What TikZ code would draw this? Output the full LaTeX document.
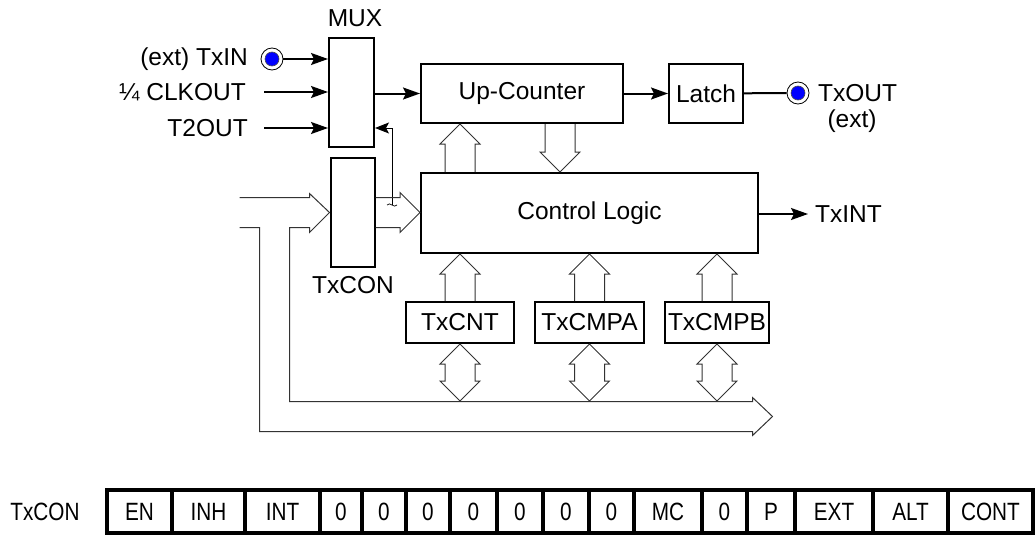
\documentclass[tikz,border=0pt]{standalone}
\usepackage{fontspec}
\setmainfont{Liberation Sans}
\newfontfamily\regfont[FakeStretch=0.83]{Liberation Sans}
\usetikzlibrary{arrows.meta,calc}

\tikzset{
  blk/.style={draw=black, line width=2pt, inner sep=0pt},
  txt/.style={inner sep=0pt},
  sig/.style={line width=2pt, -{Stealth[length=17pt,width=12pt,inset=3pt]}},
  sel/.style={line width=1pt, -{Stealth[length=14pt,width=11pt,inset=3pt]}},
  bus/.style={draw=black!80, line width=1pt, line join=miter},
  pad/.style={circle, draw=black, line width=0.8pt, fill=white, minimum size=22pt, inner sep=0pt,
    path picture={\fill[blue, draw=black!70, line width=0.6pt] (path picture bounding box.center) circle (7pt);}},
  bitcell/.style={draw=black, line width=3.5pt, minimum height=43pt, inner sep=0pt,
    font=\regfont\fontsize{25}{30}\selectfont},
}

% hollow bus arrow, tip at #2
\newcommand{\fatarrow}[2]{%
  \path[bus] let \p1=(#1), \p2=(#2),
    \n1={atan2(\y2-\y1,\x2-\x1)}, \n2={veclen(\x2-\x1,\y2-\y1)} in
    [shift={(\p1)}, rotate=\n1]
    (0pt,15pt) -- (\n2-20pt,15pt) -- (\n2-20pt,20pt) -- (\n2+0pt,0pt)
    -- (\n2-20pt,-20pt) -- (\n2-20pt,-15pt) -- (0pt,-15pt);}
% hollow bus arrow, both ends
\newcommand{\fatboth}[2]{%
  \path[bus] let \p1=(#1), \p2=(#2),
    \n1={atan2(\y2-\y1,\x2-\x1)}, \n2={veclen(\x2-\x1,\y2-\y1)} in
    [shift={(\p1)}, rotate=\n1]
    (0pt,0pt) -- (20pt,20pt) -- (20pt,15pt) -- (\n2-20pt,15pt) -- (\n2-20pt,20pt)
    -- (\n2+0pt,0pt) -- (\n2-20pt,-20pt) -- (\n2-20pt,-15pt) -- (20pt,-15pt)
    -- (20pt,-20pt) -- cycle;}

\begin{document}
\begin{tikzpicture}[x=1pt,y=-1pt,font=\fontsize{24.5}{29}\selectfont]
\useasboundingbox (0,0) rectangle (1036,535);
% blocks:
\node[blk, minimum width=45pt, minimum height=109pt] (mux) at (351.5,92.5) {};
\node[txt] (muxlbl) at (355,18) {MUX};
\node[blk, minimum width=44pt, minimum height=109pt] (txcon) at (352.5,212.5) {};
\node[txt] (txconlbl) at (353,285) {TxCON};
\node[blk, minimum width=202pt, minimum height=59pt] (upc) at (522,93.5) {Up-Counter};
\node[blk, minimum width=74pt, minimum height=59pt] (latch) at (706,93.5) {Latch};
\node[blk, minimum width=337pt, minimum height=80pt] (ctrl) at (589.5,213) {Control Logic};
\node[blk, minimum width=108pt, minimum height=41pt] (cnt) at (460,322.5) {TxCNT};
\node[blk, minimum width=109pt, minimum height=41pt] (cmpa) at (589.5,322.5) {TxCMPA};
\node[blk, minimum width=104pt, minimum height=41pt] (cmpb) at (717,322.5) {TxCMPB};

% mux inputs:
\node[pad] (txin) at (272,59) {};
\node[txt, anchor=east] (txinlbl) at (248,59) {(ext) TxIN};
\node[txt, anchor=east] (clklbl) at (246,92) {¼ CLKOUT};
\node[txt, anchor=east] (t2lbl) at (248,128) {T2OUT};
\draw[sig] (txin) -- (txin -| mux.west);
\draw[sig] ([xshift=18pt]clklbl.east) -- (clklbl -| mux.west);
\draw[sig] ([xshift=16pt]t2lbl.east) -- (t2lbl -| mux.west);

% outputs:
\draw[sig] (mux.east |- upc.west) -- (upc.west);
\draw[sig] (upc) -- (latch);
\node[pad] (txout) at (798,93) {};
\draw[line width=2pt] (latch) -- (txout);
\node[txt, anchor=west] (txoutlbl) at (818,93) {TxOUT};
\node[txt] (extlbl) at (852,121) {(ext)};
\node[txt, anchor=west] (txint) at (815,214) {TxINT};
\draw[sig] (ctrl.east |- txint) -- ([xshift=-7pt]txint.west);

% select line tapped off the control bus
\coordinate (tap) at (392,205);
\draw[sel] (tap) |- (mux.east |- t2lbl);
\draw[line width=0.7pt] ($(tap)+(-5,0)$) .. controls ($(tap)+(-2,-4)$) and ($(tap)+(2,4)$) .. ($(tap)+(5,0)$);

% buses:
\coordinate (bustop) at (0,401);
\path[bus, shift={(txcon.west)}] (-90,-15) -- (-20,-15) -- (-20,-19) -- (0,0) -- (-20,20)
  -- (-20,15) -- (-40,15) -- (-40,189) -- (423,189) -- (423,185) -- (443,204) -- (423,223)
  -- (423,219) -- (-70,219) -- (-70,15) -- (-90,15);
\fatarrow{txcon.east}{ctrl.west |- txcon.east}
\fatarrow{ctrl.north -| cnt}{upc.south -| cnt}
\fatarrow{$(upc.south)+(38,0)$}{$(ctrl.north)+(-29.5,0)$}
\foreach \r in {cnt,cmpa,cmpb} {
  \fatarrow{\r.north}{ctrl.south -| \r}
  \fatboth{\r.south}{bustop -| \r}
}

% register layout:
\node[txt, font=\regfont\fontsize{25}{30}\selectfont] (reglbl) at (45,512) {TxCON};
\foreach \t/\a/\b [count=\i] in {EN/107/172, INH/172/245, INT/245/320, 0/320/362,
    0/362/406, 0/406/450, 0/450/497, 0/497/543, 0/543/589, 0/589/634, MC/634/702,
    0/702/747, P/747/795, EXT/795/873, ALT/873/948, CONT/948/1033}
  \node[bitcell, minimum width={(\b-\a)*1pt}] (bit\i) at ({(\a+\b)/2},511.5) {\t};
\end{tikzpicture}
\end{document}
